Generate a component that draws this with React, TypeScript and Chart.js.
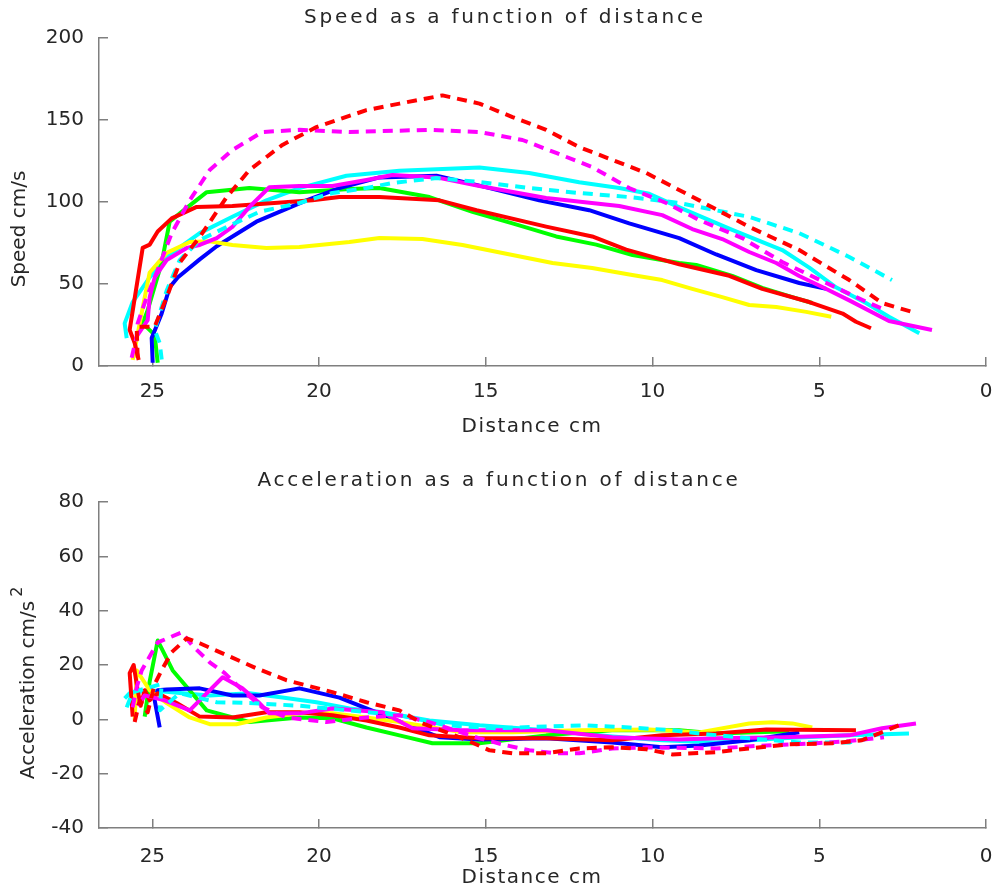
import React, { useEffect, useRef } from "react";
import { Chart, registerables } from "chart.js";

Chart.register(...registerables);

// ---------- tick values ----------
const xTicks = [0, 5, 10, 15, 20, 25];
const speedTicks = [0, 50, 100, 150, 200];
const accelTicks = [-40, -20, 0, 20, 40, 60, 80];

// ---------- speed (cm/s) vs distance (cm) ----------
const redSpeedDist = [25.41, 25.53, 25.68, 25.29, 25.08, 24.84, 24.42, 23.67, 22.6, 20.2, 19.39, 18.19, 16.39, 15.28, 13.19, 11.81, 10.79, 9.2, 7.7, 6.71, 5.3, 4.3, 3.9, 3.45];
const redSpeed = [3.7, 14, 22, 72, 74, 82, 90, 97, 97.5, 101, 103, 103, 101, 95, 85, 79, 71, 62, 55, 47, 39, 32, 27, 23];

const blueSpeedDist = [24.99, 25.02, 24.72, 24.48, 24.24, 23.58, 23.07, 21.88, 20.38, 19.39, 18.19, 16.48, 15.19, 13.4, 11.9, 10.7, 9.2, 8.09, 6.89, 5.6, 4.79];
const blueSpeed = [2, 17, 32, 48, 54, 65, 73, 88, 101, 108.5, 115, 116, 110, 101, 95, 87, 78, 68, 58.5, 50.6, 47];

const greenSpeedDist = [24.84, 24.93, 25.29, 25.14, 24.72, 24.48, 24.12, 23.37, 22.09, 20.59, 19.09, 18.19, 16.69, 15.4, 14.2, 12.89, 11.69, 10.6, 9.2, 8.69, 7.61, 6.71, 5.81, 5.21];
const greenSpeed = [2, 19, 26, 34, 63, 88, 94, 106, 108.5, 106, 108, 108.5, 103, 94, 87, 79, 74, 67.7, 62.8, 61.6, 55, 47.6, 42, 38.4];

const yellowSpeedDist = [25.59, 25.47, 25.38, 25.17, 25.08, 24.57, 23.88, 23.28, 22.6, 21.58, 20.59, 19.09, 18.19, 16.9, 15.7, 14.2, 13.0, 11.81, 10.61, 9.71, 8.81, 7.91, 7.1, 6.29, 5.39, 4.64];
const yellowSpeed = [3.7, 16, 26, 48, 57, 69, 75.6, 76, 73.8, 72, 72.6, 75.6, 78, 77.4, 73.8, 67.7, 62.8, 59.8, 55.5, 52.4, 47, 42, 37.2, 36, 33, 30];

const magentaSpeedDist = [25.44, 25.14, 25.08, 24.93, 24.57, 23.97, 23.58, 23.07, 22.6, 22.09, 21.49, 20.59, 19.6, 18.58, 17.8, 16.48, 15.19, 13.19, 11.0, 9.71, 8.81, 7.91, 7.1, 6.29, 5.6, 4.91, 4.1, 2.91, 1.62];
const magentaSpeed = [19, 28, 42, 54, 64.6, 72, 73.8, 78, 84.8, 97, 109, 109.8, 109.8, 113.4, 116.5, 115, 109.8, 102.4, 97.6, 92, 83.5, 77.4, 69.5, 62.8, 54.9, 48.2, 40, 27.4, 22];

const cyanSpeedDist = [25.77, 25.83, 25.59, 25.08, 24.57, 23.58, 22.6, 21.58, 20.59, 19.18, 17.59, 15.19, 13.7, 12.2, 11.0, 10.1, 9.11, 7.61, 6.11, 5.3, 4.5, 3.6, 2.91, 2.0];
const cyanSpeed = [17, 26, 39, 54, 66.5, 81, 91, 101, 108.5, 116, 119, 121, 117.7, 112, 108.5, 105, 96, 83, 70.7, 60, 48, 38.4, 30, 20];

const redDashSpeedDist = [25.44, 25.47, 24.93, 24.57, 24.18, 23.58, 22.77, 22.09, 21.1, 20.08, 18.58, 17.59, 16.3, 15.19, 14.2, 13.19, 12.2, 10.19, 8.6, 7.1, 5.6, 4.1, 3.12, 2.1];
const redDashSpeed = [5, 24, 24, 42, 63, 78.7, 103, 119.5, 134.8, 145.7, 156, 160, 165, 160, 151.8, 144, 133.5, 117.7, 101, 84.8, 70.7, 52.4, 38.4, 32.3];

const magentaDashSpeedDist = [25.62, 25.47, 25.44, 25.17, 24.84, 24.42, 23.88, 23.28, 22.6, 21.7, 20.59, 19.09, 16.69, 15.19, 13.9, 12.89, 11.81, 10.7, 9.59, 8.6, 7.31, 6.11, 4.79, 3.51, 3.0];
const magentaDashSpeed = [5, 18, 26, 42, 58.5, 81, 101, 119.5, 131.7, 142.7, 144, 142.7, 144, 142.7, 137.8, 129.9, 121.3, 108.5, 99.4, 89, 78, 63.4, 50.6, 38.4, 34];

const cyanDashSpeedDist = [24.72, 24.78, 24.93, 24.57, 24.18, 23.58, 22.77, 21.79, 20.59, 19.6, 18.58, 17.8, 16.48, 15.19, 13.7, 12.2, 10.7, 9.2, 7.1, 5.6, 4.1, 2.82];
const cyanDashSpeed = [4, 14, 22, 46, 64.6, 76.8, 84.8, 94, 99.4, 105.5, 108.5, 111.6, 114.6, 112.2, 108.5, 105.5, 103, 99.4, 90.9, 81, 66.5, 52.4];

// ---------- acceleration (cm/s^2) vs distance (cm) ----------
const redAccelDist = [25.59, 25.68, 25.56, 25.44, 25.35, 25.23, 25.08, 24.84, 24.27, 23.58, 22.6, 21.58, 20.59, 19.6, 18.58, 17.59, 16.69, 15.19, 13.19, 11.21, 9.71, 8.09, 6.59, 3.9];
const redAccel = [1, 17, 20, 10.7, 5, 10.7, 7, 9.6, 6, 1, 0.7, 2.6, 2.6, 1.5, -0.4, -3, -5.9, -7, -7, -7.7, -5.9, -5.2, -3.7, -4];

const blueAccelDist = [24.78, 24.93, 24.84, 24.57, 23.58, 22.6, 21.79, 20.59, 19.39, 18.58, 17.89, 16.39, 15.19, 13.19, 11.21, 9.71, 8.6, 7.1, 5.6];
const blueAccel = [-3, 7, 10.7, 11, 11.4, 8.8, 8.8, 11.4, 8, 4, 0.7, -6.6, -7.4, -7, -8.5, -10.3, -9.6, -7.7, -4.8];

const greenAccelDist = [25.23, 25.08, 24.84, 24.39, 23.37, 22.09, 20.59, 19.6, 18.58, 17.59, 16.6, 15.19, 13.19, 11.21, 9.2, 8.09, 5.9];
const greenAccel = [1, 14, 29, 18, 3.3, -1, 0.7, 0.4, -3, -5.9, -8.8, -8.8, -5.9, -4, -4, -5.2, -4.4];

const yellowAccelDist = [25.53, 25.47, 25.08, 24.57, 23.88, 23.28, 22.48, 21.58, 20.59, 19.6, 18.58, 17.59, 15.7, 14.2, 12.2, 10.1, 8.6, 7.1, 6.41, 5.81, 5.21];
const yellowAccel = [-0.4, 18, 10.7, 6, 0.7, -1.8, -1.8, 0.7, 2.2, 2.2, 0.7, -1, -4.8, -4.8, -4, -3.7, -4.8, -1.5, -1.1, -1.5, -3];

const magentaAccelDist = [25.44, 25.23, 24.63, 23.88, 22.89, 22.3, 21.79, 21.49, 20.59, 19.6, 18.1, 17.2, 15.7, 13.19, 11.21, 9.2, 8.09, 6.11, 4.1, 3.12, 2.1];
const magentaAccel = [5, 8.8, 7, 3.3, 15.5, 11.4, 6, 2.2, 2.2, 4, 2.6, -3.3, -4, -4, -6.6, -7.4, -7, -6.6, -5.9, -3.3, -1.5];

const cyanAccelDist = [25.83, 25.68, 25.08, 24.09, 23.28, 22.09, 21.1, 20.08, 19.09, 18.1, 17.59, 16.69, 15.19, 13.19, 11.21, 9.71, 8.09, 6.11, 4.1, 2.31];
const cyanAccel = [7.7, 9.6, 10.7, 9.6, 8.8, 9.6, 8, 6.3, 4, 2.6, 1.5, -0.4, -2.2, -4, -6.3, -7.7, -8.5, -7, -5.9, -5.2];

const redDashAccelDist = [25.53, 25.38, 25.14, 24.93, 24.69, 24.42, 23.97, 23.58, 22.77, 21.88, 20.98, 19.6, 18.58, 17.59, 16.9, 15.7, 14.89, 14.2, 13.19, 12.2, 11.21, 10.19, 9.41, 8.09, 7.1, 5.9, 4.61, 3.72, 2.61];
const redDashAccel = [-1, 7, 2.6, 13, 18.8, 24.7, 29.8, 28, 23.6, 18.8, 14.4, 10, 6.3, 3.3, -1.5, -7, -11.4, -12.5, -12.5, -10.7, -10.3, -11, -12.9, -12.1, -10.7, -9.2, -8.8, -7.7, -2.2];

const magentaDashAccelDist = [25.59, 25.47, 25.32, 24.84, 24.12, 23.79, 23.28, 22.83, 22.3, 21.7, 20.98, 19.78, 18.58, 17.59, 16.69, 15.19, 14.38, 13.7, 12.89, 12.2, 11.21, 10.19, 8.09, 6.59, 5.09, 4.1, 3.06];
const magentaDashAccel = [4.4, 11.8, 18, 28.3, 32, 27, 21, 17, 10.7, 4.4, 0.7, -1, 0.7, 1.5, -1, -7, -9.6, -11.4, -12.5, -12.5, -10.7, -10.3, -10.7, -9.6, -8.8, -8, -6.6];

const cyanDashAccelDist = [25.77, 25.59, 24.72, 24.78, 24.18, 23.07, 22.09, 20.59, 19.09, 17.59, 16.18, 14.68, 13.19, 11.99, 10.7, 9.41, 8.6, 7.1, 5.6, 4.1, 3.51];
const cyanDashAccel = [4.4, 10, 13, 3.3, 9.6, 6.3, 6, 5, 3.3, 1.5, -2.2, -3.3, -2.6, -2.2, -3, -4, -5.2, -7, -8.5, -8.5, -7];

// ---------- styling ----------
const FONT = "DejaVu Sans";
const TEXT_COLOR = "#262626";
const AXIS_COLOR = "#7f7f7f";
const DASH = [10, 7];

type Series = { color: string; dashed: boolean; d: number[]; v: number[] };

const speedSeries: Series[] = [
  { color: "#ff0000", dashed: true, d: redDashSpeedDist, v: redDashSpeed },
  { color: "#ff00ff", dashed: true, d: magentaDashSpeedDist, v: magentaDashSpeed },
  { color: "#00ffff", dashed: true, d: cyanDashSpeedDist, v: cyanDashSpeed },
  { color: "#ff00ff", dashed: false, d: magentaSpeedDist, v: magentaSpeed },
  { color: "#ff0000", dashed: false, d: redSpeedDist, v: redSpeed },
  { color: "#ffff00", dashed: false, d: yellowSpeedDist, v: yellowSpeed },
  { color: "#0000ff", dashed: false, d: blueSpeedDist, v: blueSpeed },
  { color: "#00ff00", dashed: false, d: greenSpeedDist, v: greenSpeed },
  { color: "#00ffff", dashed: false, d: cyanSpeedDist, v: cyanSpeed },
];

const accelSeries: Series[] = [
  { color: "#ff0000", dashed: true, d: redDashAccelDist, v: redDashAccel },
  { color: "#ff00ff", dashed: true, d: magentaDashAccelDist, v: magentaDashAccel },
  { color: "#00ffff", dashed: true, d: cyanDashAccelDist, v: cyanDashAccel },
  { color: "#ff00ff", dashed: false, d: magentaAccelDist, v: magentaAccel },
  { color: "#ff0000", dashed: false, d: redAccelDist, v: redAccel },
  { color: "#ffff00", dashed: false, d: yellowAccelDist, v: yellowAccel },
  { color: "#0000ff", dashed: false, d: blueAccelDist, v: blueAccel },
  { color: "#00ff00", dashed: false, d: greenAccelDist, v: greenAccel },
  { color: "#00ffff", dashed: false, d: cyanAccelDist, v: cyanAccel },
];

type TextItem = {
  text: string;
  x: number;
  y: number;
  size: number;
  spacing?: number;
  rotate?: boolean;
  sup?: string;
};

function textPlugin(items: TextItem[]) {
  return {
    id: "axisTexts",
    afterDraw(chart: any) {
      const ctx = chart.ctx as CanvasRenderingContext2D;
      items.forEach((it) => {
        ctx.save();
        ctx.fillStyle = TEXT_COLOR;
        ctx.font = `${it.size}px "${FONT}"`;
        (ctx as any).letterSpacing = `${it.spacing || 0}px`;
        ctx.textAlign = "center";
        ctx.textBaseline = "middle";
        ctx.translate(it.x, it.y);
        if (it.rotate) ctx.rotate(-Math.PI / 2);
        ctx.fillText(it.text, 0, 0);
        if (it.sup) {
          const w = ctx.measureText(it.text).width;
          ctx.font = `${Math.round(it.size * 0.8)}px "${FONT}"`;
          ctx.textAlign = "left";
          ctx.fillText(it.sup, w / 2 + 4, -it.size * 0.55);
        }
        ctx.restore();
      });
    },
  };
}

function makeConfig(
  series: Series[],
  yMin: number,
  yMax: number,
  yTicks: number[],
  area: { top: number; bottom: number; height: number },
  texts: TextItem[],
  xLabelPad: number
): any {
  const datasets = series.map((s) => ({
    data: s.d.map((x, i) => ({ x, y: s.v[i] })),
    borderColor: s.color,
    backgroundColor: s.color,
    borderWidth: 4,
    borderDash: s.dashed ? DASH : [],
    borderCapStyle: "butt",
    borderJoinStyle: "round",
    pointRadius: 0,
    showLine: true,
    fill: false,
    tension: 0,
  }));
  const grid = {
    display: true,
    drawOnChartArea: false,
    drawTicks: true,
    tickLength: -9,
    color: AXIS_COLOR,
    lineWidth: 1.5,
  };
  const border = { display: true, color: AXIS_COLOR, width: 1.5 };
  const tickFont = { family: FONT, size: 20 };
  return {
    type: "scatter",
    data: { datasets },
    options: {
      animation: false,
      responsive: false,
      maintainAspectRatio: false,
      events: [],
      layout: { padding: { top: area.top, right: 6, left: 0, bottom: 0 } },
      plugins: {
        legend: { display: false },
        tooltip: { enabled: false },
        title: { display: false },
      },
      scales: {
        x: {
          type: "linear",
          reverse: true,
          min: 0,
          max: 26.6,
          grid,
          border,
          ticks: { font: tickFont, color: TEXT_COLOR, padding: xLabelPad, maxRotation: 0 },
          afterBuildTicks: (s: any) => {
            s.ticks = xTicks.map((value) => ({ value }));
          },
          afterFit: (s: any) => {
            s.height = area.height - area.bottom;
            s.paddingLeft = 0;
            s.paddingRight = 0;
          },
        },
        y: {
          type: "linear",
          min: yMin,
          max: yMax,
          grid,
          border,
          ticks: { font: tickFont, color: TEXT_COLOR, padding: 24 },
          afterBuildTicks: (s: any) => {
            s.ticks = yTicks.map((value) => ({ value }));
          },
          afterFit: (s: any) => {
            s.width = 99;
            s.paddingTop = 0;
            s.paddingBottom = 0;
          },
        },
      },
    },
    plugins: [textPlugin(texts)],
  };
}

function ChartCanvas({ config, width, height, top }: { config: any; width: number; height: number; top: number }) {
  const ref = useRef<HTMLCanvasElement | null>(null);
  useEffect(() => {
    if (!ref.current) return;
    const chart = new Chart(ref.current, config);
    return () => chart.destroy();
  }, [config]);
  return (
    <canvas
      ref={ref}
      width={width}
      height={height}
      style={{ position: "absolute", left: 0, top, width, height, display: "block" }}
    />
  );
}

const topConfig = makeConfig(
  speedSeries,
  0,
  200,
  speedTicks,
  { top: 38, bottom: 366, height: 446 },
  [
    { text: "Speed as a function of distance", x: 505, y: 18, size: 20, spacing: 2.8 },
    { text: "Distance cm", x: 532, y: 427, size: 20, spacing: 1.5 },
    { text: "Speed cm/s", x: 20, y: 229, size: 20, rotate: true },
  ],
  23
);

const bottomConfig = makeConfig(
  accelSeries,
  -40,
  80,
  accelTicks,
  { top: 56, bottom: 382, height: 447 },
  [
    { text: "Acceleration as a function of distance", x: 499, y: 35, size: 20, spacing: 2.8 },
    { text: "Distance cm", x: 532, y: 432, size: 20, spacing: 1.5 },
    { text: "Acceleration cm/s", x: 29, y: 244, size: 20, rotate: true, sup: "2" },
  ],
  26
);

export default function App() {
  return (
    <div style={{ position: "absolute", left: 0, top: 0, width: 992, height: 893, background: "#ffffff", overflow: "hidden" }}>
      <ChartCanvas config={topConfig} width={992} height={446} top={0} />
      <ChartCanvas config={bottomConfig} width={992} height={447} top={446} />
    </div>
  );
}
